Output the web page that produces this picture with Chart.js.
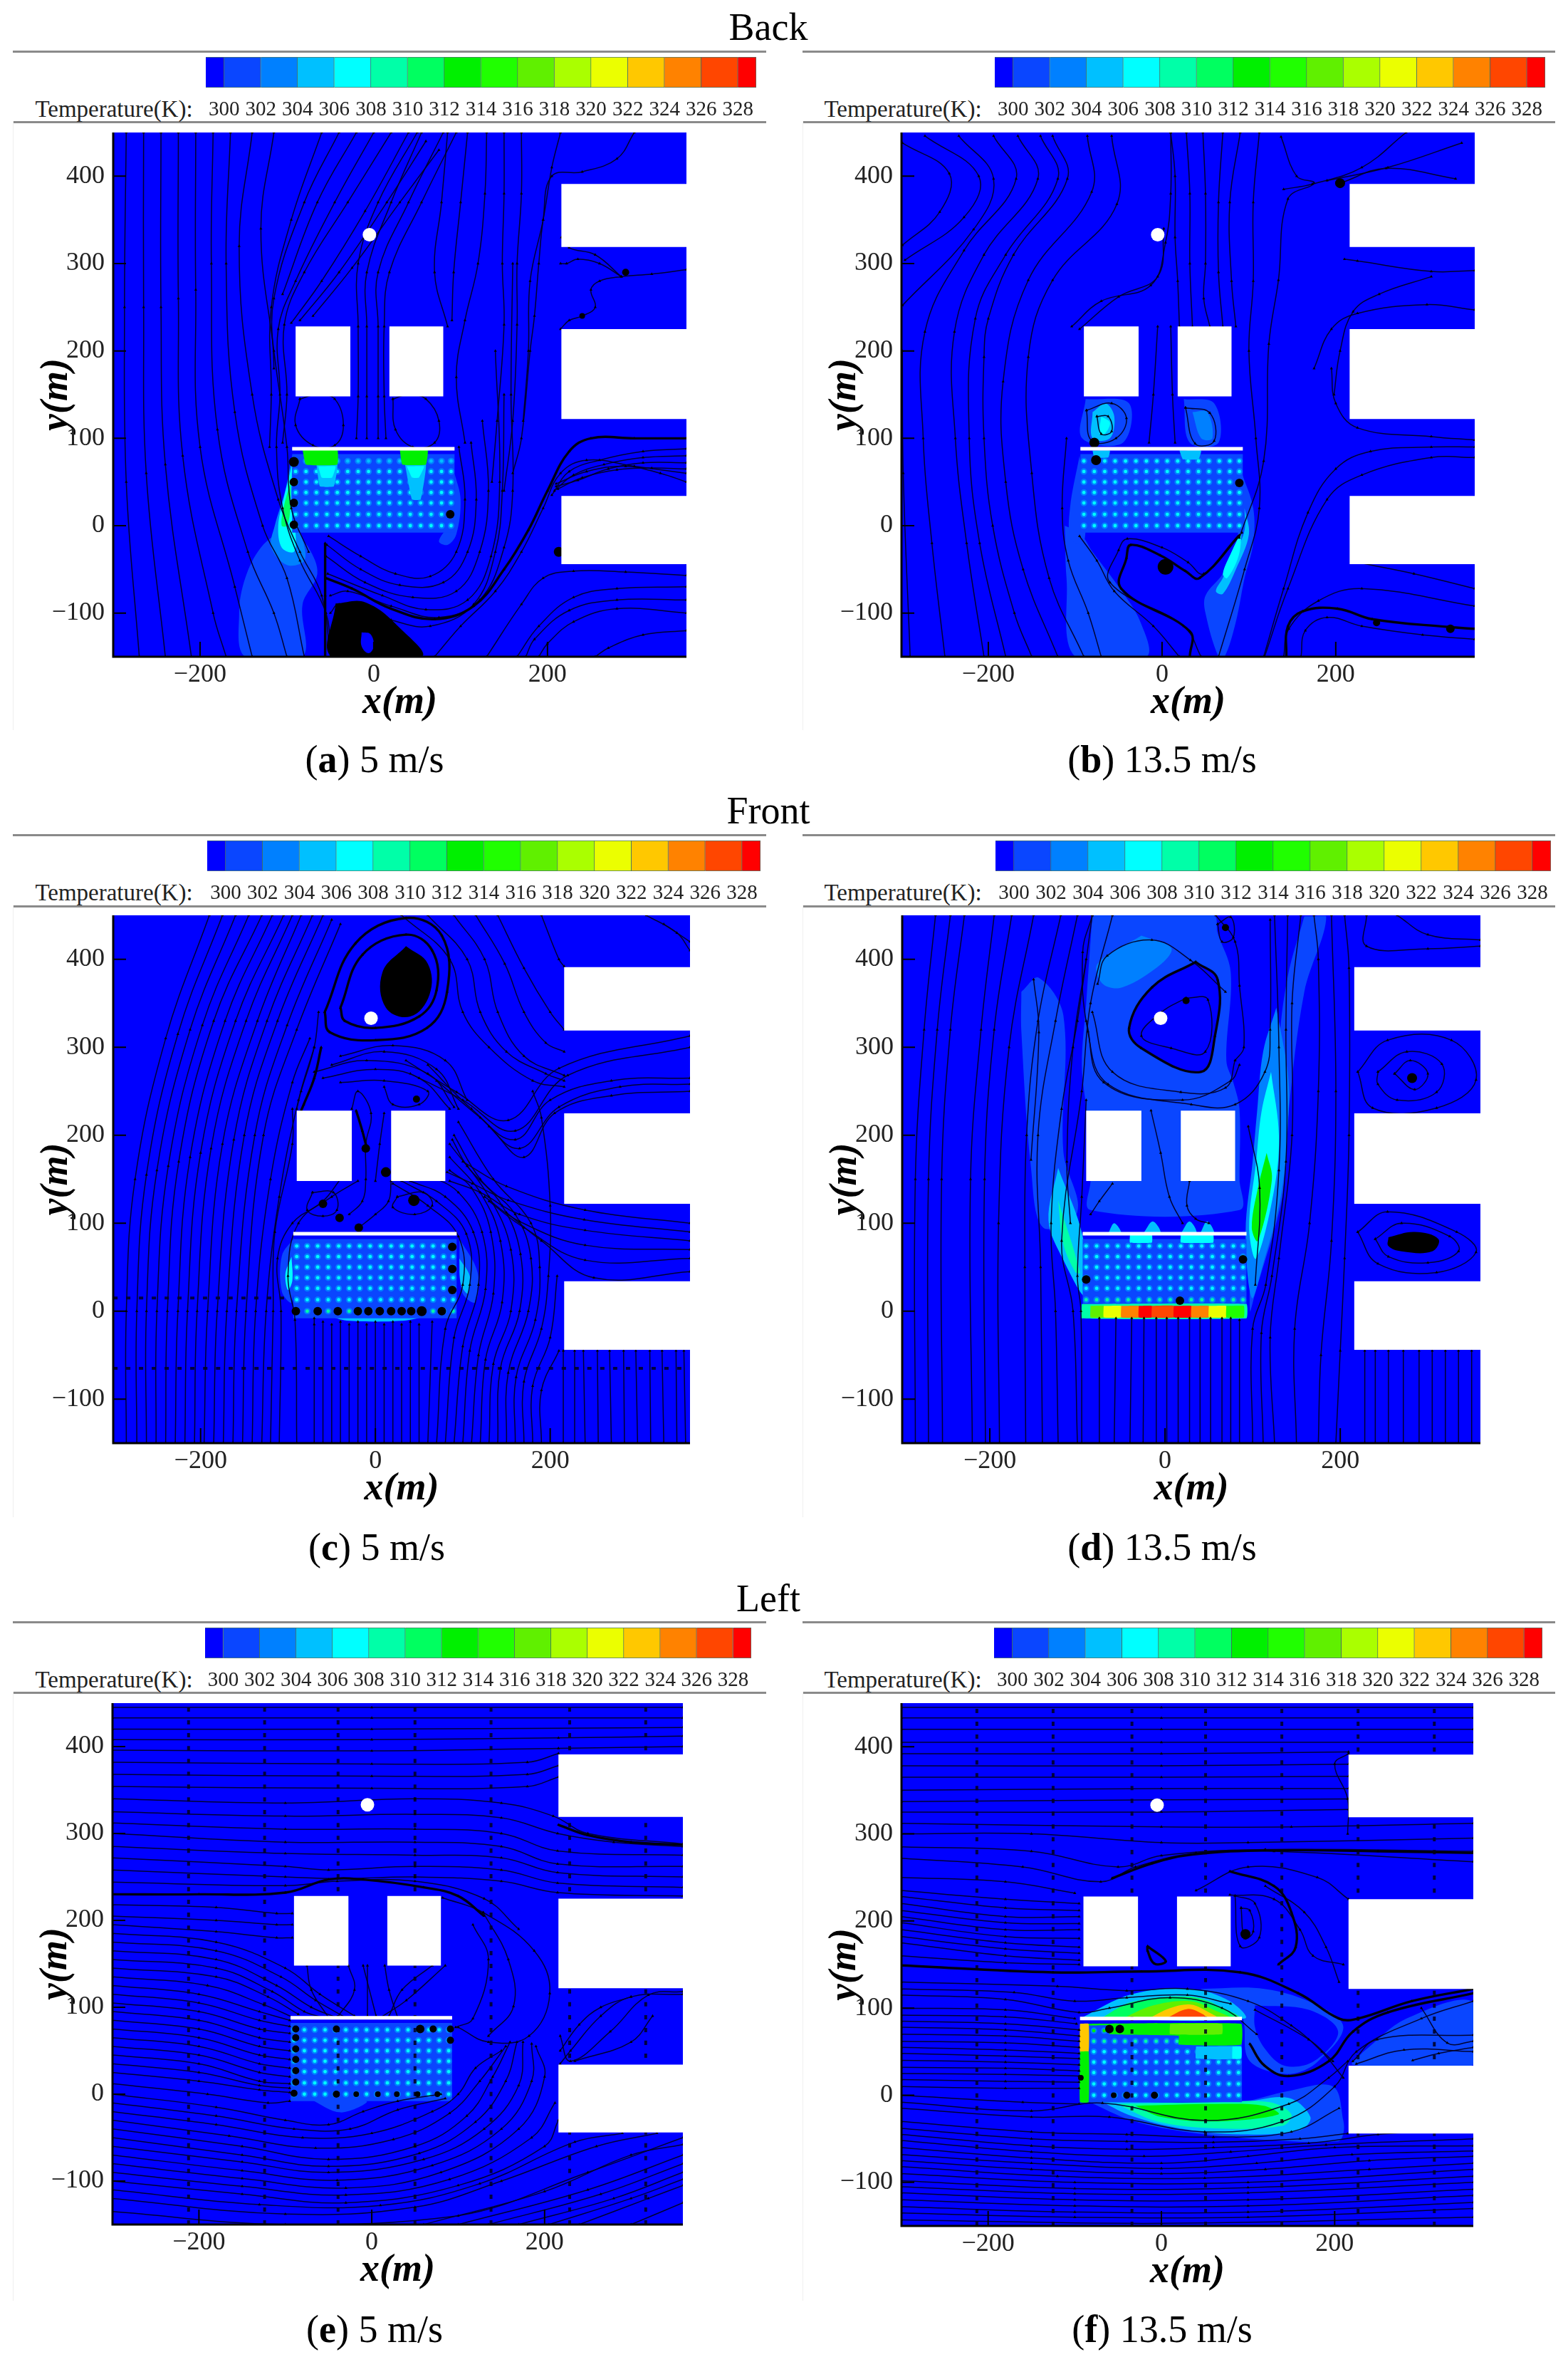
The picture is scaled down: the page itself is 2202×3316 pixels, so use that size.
<!DOCTYPE html>
<html>
<head>
<meta charset="utf-8">
<title>Temperature contours and streamlines</title>
<script src="https://cdn.jsdelivr.net/npm/chart.js@4/dist/chart.umd.js"></script>
<style>
html, body { margin: 0; padding: 0; background: #fff; }
#page { position: relative; width: 2202px; height: 3316px; overflow: hidden; font-family: "Liberation Serif", serif; color: #000; }
#page canvas { position: absolute; filter: blur(0.7px); }
.txt { position: absolute; white-space: nowrap; transform: translate(-50%, -50%); }
.head { font-size: 54px; }
.tlabel { font-size: 33px; color: #222; }
.rule { position: absolute; height: 3px; background: #8a8a8a; }
.edge { position: absolute; width: 1px; background: #efefef; }
</style>
</head>
<body>
<div id="page"></div>
<script>
// colour bar
const TEMP_EDGES = [299, 300, 302, 304, 306, 308, 310, 312, 314, 316, 318, 320, 322, 324, 326, 328, 329];
const TEMP_TICKS = [300, 302, 304, 306, 308, 310, 312, 314, 316, 318, 320, 322, 324, 326, 328];
const PALETTE = ['#0000ff', '#0a46ff', '#0080ff', '#00c0ff', '#00ffff', '#00ffa8', '#00ff60', '#00f000',
    '#20ff00', '#60f000', '#aaff00', '#ebff00', '#ffc800', '#ff8200', '#ff4600', '#ff0000'];

// axes
const X_TICKS = [-200, 0, 200];
const Y_TICKS = [-100, 0, 100, 200, 300, 400];

// buildings and array, metres: x0, x1, y0, y1
const BUILDINGS = [[-90, -27, 148, 228], [18, 80, 148, 228], [216, 370, 319, 391], [216, 370, 122, 225], [216, 370, -44, 34]];
const ARRAY_BOX = [-94, 93, -8, 82];
const WALL = [-94, 88, 93, 88];
const MAST = [-5, 333];
const DOT_X = [-90, -78, -66, -54, -42, -30, -18, -6, 6, 18, 30, 42, 54, 66, 78, 89];
const DOT_Y = [74, 62, 50, 38, 26, 13, 0];

// temperature level of the dots, row by row from the top
const dotLevelsA = [3, 4, 4, 4, 4, 4, 4];
const dotLevelsB = [4, 4, 4, 4, 4, 4, 4];
const dotLevelsC = [4, 4, 4, 4, 4, 4, 5];
const dotLevelsD = [4, 4, 4, 4, 4, 5, 7];
const dotLevelsE = [4, 4, 4, 4, 4, 4, 4];
const dotLevelsF = [7, 5, 4, 4, 4, 4, 4];

// contour patches: level, then x,y pairs
const hotA = [
    [1, -100, 0, -130, -25, -148, -60, -155, -100, -148, -150, -82, -150, -82, -90, -65, -55, -75, -25, -90, -10],
    [2, -94, 80, -102, 40, -114, 0, -118, -25, -100, -45, -80, -40, -82, -15, -92, 10, -90, 50],
    [4, -94, 70, -104, 30, -110, 0, -106, -25, -92, -30, -90, -10, -95, 20],
    [6, -96, 50, -104, 20, -106, 0, -100, 0, -96, 20],
    [1, 93, 60, 100, 30, 95, -10, 85, -22, 75, -18, 85, 0, 92, 30]
];
const arrayHotA = [
    [3, -66, 70, -42, 70, -46, 45, -62, 45],
    [3, 36, 70, 60, 70, 54, 30, 44, 30],
    [4, -64, 68, -44, 68, -48, 55, -60, 55],
    [4, 38, 68, 58, 68, 52, 55, 44, 55],
    [7, -82, 87, -42, 87, -42, 70, -78, 70],
    [7, 30, 87, 62, 87, 60, 70, 33, 70]
];
const hotB = [
    [1, -112, 0, -110, -60, -100, -150, -18, -150, -25, -110, -50, -70, -80, -30, -95, -8],
    [1, -95, 80, -106, 20, -105, -15, -90, -20, -90, 40],
    [1, 92, 60, 105, 20, 105, -20, 95, -60, 85, -110, 72, -150, 65, -150, 50, -100, 50, -80, 70, -55, 85, -25],
    [3, 95, 20, 95, -5, 85, -30, 70, -60, 62, -75, 70, -78, 85, -50, 100, -10],
    [4, 92, -5, 80, -30, 70, -55, 75, -60, 88, -35],
    [1, -88, 145, -92, 100, -45, 95, -38, 140],
    [3, -80, 130, -80, 100, -60, 100, -55, 125, -65, 140],
    [4, -70, 125, -72, 105, -66, 105, -60, 118],
    [1, 25, 145, 32, 95, 65, 95, 60, 140],
    [2, 35, 130, 45, 100, 58, 100, 52, 130]
];
const arrayHotB = [
    [3, -80, 86, -60, 86, -62, 78, -78, 78],
    [3, 20, 86, 45, 86, 42, 76, 24, 76]
];
const hotC = [
    [1, -93, 83, -107, 63, -107, 22, -96, 10, -93, 44],
    [4, -96, 62, -103, 42, -100, 24, -95, 35],
    [1, 96, 83, 117, 44, 114, 10, 99, 22],
    [3, 96, 60, 108, 40, 106, 20, 98, 30],
    [3, -52, -6, -30, -11, 30, -11, 53, -6]
];
const arrayHotC = [];
const hotD = [
    [1, -83, 450, -90, 350, -95, 280, -90, 230, -85, 150, -85, 115, 85, 115, 85, 150, 85, 230, 78, 260, 70, 285, 75, 385, 60, 430, 55, 450],
    [0, 35, 397, 60, 377, 57, 313, 41, 272, -27, 299, -41, 322, -15, 368],
    [2, -27, 427, 7, 413, -4, 395, -49, 368, -71, 372, -77, 395],
    [1, -164, 363, -144, 379, -116, 336, -116, 181, -100, 113, -139, 95, -153, 163, -164, 318],
    [3, -122, 163, -94, 85, -91, 17, -116, 58, -133, 103],
    [5, -122, 126, -97, 44, -102, 44, -116, 76],
    [1, 159, 449, 184, 449, 159, 363, 141, 226, 135, 135, 102, 17, 97, 0, 100, 60, 125, 130, 130, 300, 140, 380],
    [2, 127, 345, 140, 272, 141, 226, 133, 135, 111, 50, 99, 15, 92, 90, 100, 170, 105, 226, 112, 295],
    [4, 121, 272, 130, 199, 124, 135, 104, 60, 96, 95, 104, 170, 110, 226],
    [7, 116, 180, 122, 150, 106, 80, 99, 95, 106, 140],
    [3, -65, 88, -58, 100, -50, 88],
    [3, -25, 88, -14, 102, -5, 88],
    [3, 18, 88, 28, 102, 36, 88],
    [3, 40, 88, 48, 102, 56, 88]
];
const arrayHotD = [
    [5, -95, 8, 93, 8, 93, -8, -95, -8],
    [9, -85, 6, -70, 6, -70, -7, -85, -7],
    [11, -70, 6, -50, 6, -50, -7, -70, -7],
    [13, -50, 6, -30, 6, -30, -7, -50, -7],
    [15, -30, 6, -15, 6, -15, -7, -30, -7],
    [14, -15, 6, 10, 6, 10, -7, -15, -7],
    [15, 10, 6, 30, 6, 30, -7, 10, -7],
    [13, 30, 6, 50, 6, 50, -7, 30, -7],
    [11, 50, 6, 70, 6, 70, -7, 50, -7],
    [8, 70, 6, 90, 6, 90, -7, 70, -7],
    [4, -40, 87, -15, 87, -15, 78, -40, 78],
    [4, 18, 87, 55, 87, 55, 78, 18, 78]
];
const hotE = [
    [1, -71, -6, -6, -8, -36, -21]
];
const arrayHotE = [];
const hotF = [
    [1, 45, 122, 119, 122, 181, 103, 210, 78, 181, 39, 153, 25, 119, 29, 99, 44, 94, 88, 79, 103],
    [0, 108, 103, 170, 98, 204, 73, 176, 39, 142, 34, 119, 54, 108, 78],
    [1, 232, 49, 283, 88, 360, 107, 360, 35, 221, 35],
    [1, -85, -7, 91, -7, 147, 5, 198, 10, 210, -29, 210, -44, 204, -53, 119, -51, 34, -43, -34, -29],
    [3, -68, -8, 91, -8, 147, -3, 172, -25, 160, -40, 91, -45, 21, -38, -34, -24],
    [5, -51, -10, 62, -8, 125, -8, 150, -22, 140, -35, 62, -38, -5, -30],
    [7, -30, -12, 62, -10, 118, -12, 135, -22, 62, -30, 0, -25],
    [3, -94, 88, -34, 116, 34, 122, 79, 108, 96, 88],
    [6, -70, 88, -34, 107, 34, 113, 72, 100, 90, 88],
    [9, -45, 88, -10, 103, 34, 108, 65, 96, 80, 88],
    [12, -15, 88, 10, 100, 34, 104, 55, 95, 65, 88],
    [14, 5, 88, 30, 99, 48, 93, 52, 88]
];
const arrayHotF = [
    [7, -84, 82, 92, 82, 92, 58, 20, 58, 20, 68, -60, 70, -60, 80, -84, 80],
    [9, 10, 82, 70, 82, 70, 70, 10, 70],
    [12, -94, 82, -84, 82, -84, 50, -94, 50],
    [7, -94, 50, -84, 50, -84, -8, -94, -8],
    [3, 40, 56, 92, 56, 92, 42, 40, 42],
    [4, 82, 56, 92, 56, 92, 42, 82, 42]
];

// streamlines: x,y pairs
const linesA = [
    [-285, 450, -287, 250, -285, 50, -270, -150], [-265, 450, -265, 250, -262, 60, -240, -150],
    [-245, 450, -245, 250, -240, 70, -210, -150], [-225, 450, -225, 260, -220, 80, -185, -100, -170, -150],
    [-205, 450, -205, 270, -200, 90, -160, -70, -140, -150], [-185, 450, -187, 300, -180, 110, -145, -30, -115, -100, -100, -150],
    [-165, 450, -170, 300, -160, 130, -128, 0, -100, -60, -80, -150],
    [-140, 450, -155, 320, -140, 150, -110, 30, -85, -30, -60, -80, -50, -150],
    [-115, 450, -130, 340, -115, 200, -100, 90, -95, 20, -75, -30],
    [0, 450, -45, 370, -90, 280, -110, 225, -108, 150, -112, 90, -105, 20, -85, -40, -55, -100, -50, -150],
    [20, 450, -30, 370, -80, 290, -103, 230, -100, 150, -105, 95], [40, 450, -10, 360, -60, 280, -95, 232],
    [60, 440, 15, 370, -40, 290, -85, 235], [-60, 450, -95, 350, -118, 250, -118, 150, -120, 90],
    [-40, 450, -80, 370, -115, 260, -115, 180], [-20, 450, -65, 370, -105, 265], [75, 430, 30, 370, -25, 295, -70, 240],
    [55, 450, 20, 370, -8, 290, -8, 228, -8, 148, -8, 100], [80, 450, 40, 370, 5, 290, 5, 228, 5, 148, 5, 100],
    [50, 450, 5, 370, -18, 300, -18, 228, -18, 148, -20, 100], [95, 450, 55, 370, 18, 290, 12, 228, 12, 148, 14, 100],
    [85, 450, 78, 370, 70, 290, 85, 228], [108, 450, 100, 370, 92, 290, 90, 235], [130, 450, 128, 380, 120, 300, 105, 235, 95, 170, 105, 95],
    [98, 90, 105, 30, 95, -30, 65, -58, 25, -55, -15, -35, -52, -12], [112, 95, 118, 30, 108, -30, 80, -65, 30, -68, -15, -50, -54, -22],
    [125, 120, 132, 40, 122, -30, 95, -75, 45, -82, -10, -65, -55, -35], [140, 200, 145, 50, 135, -35, 108, -85, 60, -96, 10, -80, -53, -55],
    [160, 300, 158, 150, 160, 40, 150, -25, 122, -85, 75, -105, 20, -92, -30, -75, -50, -80],
    [150, 150, 148, 40, 140, -30, 115, -90, 65, -115, 20, -108, -40, -90, -50, -100],
    [360, 60, 300, 68, 245, 75, 215, 60, 195, 20, 170, -30, 140, -75, 100, -115, 70, -150],
    [360, 88, 310, 85, 260, 75, 225, 62, 205, 35], [360, 72, 310, 72, 270, 65, 235, 52, 210, 45], [360, 50, 330, 60, 290, 68, 245, 62, 210, 48],
    [360, 80, 310, 78, 265, 70, 230, 58, 208, 40], [360, 65, 320, 66, 280, 64, 240, 55, 212, 42],
    [360, -57, 290, -53, 230, -52, 195, -60, 170, -90, 130, -150], [360, -70, 280, -72, 230, -82, 190, -115, 165, -150],
    [360, -85, 280, -85, 225, -97, 185, -130, 175, -150],
    [360, -100, 280, -95, 230, -110, 200, -135, 190, -150], [360, -120, 310, -125, 270, -140, 255, -150],
    [300, 450, 280, 420, 240, 405, 205, 400, 195, 350, 190, 300, 185, 240, 180, 200, 170, 100, 160, 60],
    [215, 450, 205, 410, 195, 350, 180, 280, 178, 200, 172, 120], [170, 450, 170, 380, 165, 300, 165, 230, 160, 120, 150, 40],
    [150, 450, 150, 380, 148, 300, 150, 230, 142, 120, 136, 50],
    [360, 293, 320, 288, 285, 285, 260, 280, 250, 270, 255, 250, 240, 240, 225, 235, 215, 225],
    [285, 285, 260, 300, 235, 305, 222, 300, 215, 300], [285, 285, 255, 310, 225, 318, 216, 330],
    [-85, 145, -90, 115, -70, 92, -45, 92, -35, 115, -45, 145, -65, 150, -85, 145], [22, 145, 25, 110, 45, 90, 70, 95, 75, 120, 60, 145, 40, 150, 22, 145]
];
const thickA = [
    [360, 100, 300, 100, 250, 100, 225, 85, 200, 40, 178, -5, 150, -50, 115, -92, 70, -107, 20, -95, -25, -72, -55, -60],
    [-56, -20, -56, -80, -56, -150]
];
const linesB = [
    [-299, 438, -245, 403, -256, 359, -299, 321], [-273, 446, -211, 400, -228, 353, -296, 304], [-234, 446, -194, 397, -217, 339, -299, 252],
    [-126, 446, -109, 397, -171, 310, -200, 237, -205, 193, -205, 100, -195, 0, -170, -100, -150, -150],
    [-86, 446, -81, 382, -154, 281, -183, 165, -180, 50, -160, -50, -120, -150],
    [-58, 446, -52, 368, -126, 281, -154, 193, -150, 60, -130, -60, -90, -150],
    [-166, 446, -143, 397, -205, 310, -239, 222, -238, 100, -225, -20, -205, -150],
    [-194, 446, -168, 397, -228, 315, -273, 222, -275, 100, -265, -20, -250, -150],
    [-140, 446, -120, 397, -180, 310, -215, 237, -222, 100, -210, -20, -180, -150],
    [-299, 200, -298, 60, -290, -150], [-104, 228, -70, 257, -13, 275, 4, 324, 10, 380, 10, 450],
    [-110, 100, -115, 20, -108, -40, -85, -100, -70, -150],
    [10, 450, 15, 400, 15, 330, 18, 280, 20, 228], [47, 450, 50, 380, 50, 300, 48, 260, 55, 228], [90, 450, 78, 370, 80, 280, 85, 228],
    [70, 450, 65, 370, 65, 290, 70, 228], [112, 450, 105, 370, 105, 280, 100, 200, 108, 100, 112, 20, 95, -50, 65, -150],
    [28, 450, 32, 380, 32, 300, 35, 228], [-95, 225, -50, 262, -5, 285, 2, 340],
    [137, 445, 155, 400, 175, 392, 145, 374, 134, 281, 123, 208, 117, 74, 89, -14],
    [281, 450, 230, 410, 173, 391, 140, 385], [345, 438, 260, 410, 190, 395], [338, 397, 258, 409, 205, 392],
    [360, 292, 310, 291, 225, 303, 210, 305], [310, 285, 250, 265, 220, 245, 205, 200, 198, 150],
    [360, 247, 305, 253, 225, 243, 195, 225, 175, 180], [360, 98, 310, 102, 225, 112, 200, 140, 195, 180],
    [360, 90, 310, 90, 240, 85, 200, 65, 168, 15, 140, -72, 117, -150], [360, 78, 310, 78, 230, 58, 190, 30, 145, -72, 118, -150],
    [360, -72, 290, -55, 230, -43], [360, -92, 230, -72, 180, -86, 146, -118, 140, -150],
    [360, -130, 300, -125, 230, -115, 190, -105, 165, -120, 160, -150], [92, -8, 48, -55, 30, -42, 0, -25, -40, -15, -50, -28, -60, -65, 25, -115, 45, -150],
    [-95, -12, -75, -40, -55, -75, -10, -115, 20, -150], [-5, 228, -10, 150, -15, 95], [10, 228, 12, 150, 15, 95],
    [-87, 132, -81, 97, -53, 100, -41, 123, -58, 140, -87, 132], [27, 135, 38, 94, 60, 97, 55, 129, 27, 135],
    [-75, 125, -70, 105, -58, 108, -62, 125, -75, 125]
];
const thickB = [
    [89, -11, 43, -60, 27, -52, -2, -34, -36, -22, -41, -37, -47, -72, 32, -121, 32, -150],
    [360, -118, 330, -116, 242, -107, 202, -95, 162, -98, 145, -115, 143, -150]
];
const linesC = [
    [-285, -150, -285, 0, -275, 150, -240, 310, -190, 450], [-262, -150, -262, 0, -250, 160, -212, 320, -160, 450],
    [-273, -150, -273, 0, -262, 155, -226, 315, -175, 450], [-251, -150, -250, 0, -237, 165, -198, 325, -145, 450],
    [-240, -150, -238, 0, -225, 170, -185, 330, -130, 450], [-218, -150, -215, 0, -200, 180, -160, 330, -105, 450],
    [-229, -150, -226, 0, -212, 175, -172, 330, -118, 450], [-207, -150, -204, 0, -188, 185, -148, 330, -95, 450],
    [-196, -150, -192, 0, -175, 190, -135, 330, -85, 450], [-174, -150, -170, 0, -150, 200, -112, 330, -60, 450],
    [-185, -150, -181, 0, -162, 195, -124, 330, -72, 450], [-163, -150, -159, 0, -138, 200, -101, 325, -50, 445],
    [-152, -150, -148, 0, -128, 200, -90, 320, -40, 440], [-130, -150, -125, 0, -110, 130, -88, 240, -70, 300],
    [-141, -150, -137, 0, -120, 150, -95, 260, -75, 310], [-120, -150, -117, 0, -115, 90, -95, 190, -95, 230],
    [-110, -150, -108, 0, -112, 60, -95, 100, -60, 125, -40, 150], [-90, -150, -92, -10, -100, 40, -88, 100, -50, 130, -20, 148],
    [-70, -150, -70, -15, -70, -8], [-50, -150, -50, -15], [-30, -150, -30, -15], [-10, -150, -10, -15], [10, -150, 10, -15], [30, -150, 30, -15], [50, -150, 50, -15],
    [-60, -150, -60, -12], [-40, -150, -40, -12], [-20, -150, -20, -12], [0, -150, 0, -12], [20, -150, 20, -12], [40, -150, 40, -12], [60, -150, 65, -12],
    [70, -150, 80, -20, 100, 30, 95, 85, 60, 120, 20, 145], [90, -150, 100, -40, 118, 30, 112, 90, 80, 130, 40, 148],
    [80, -150, 90, -30, 108, 30, 104, 88, 70, 125, 30, 148], [100, -150, 108, -45, 126, 25, 122, 90, 95, 135, 60, 155],
    [110, -150, 118, -50, 135, 20, 132, 90, 110, 140, 85, 160], [120, -150, 126, -55, 145, 10, 143, 80, 120, 135, 85, 175],
    [130, -150, 135, -60, 155, 0, 155, 70, 130, 130, 85, 190], [150, -150, 152, -70, 175, 0, 178, 60, 160, 110, 120, 150, 90, 200],
    [140, -150, 143, -65, 165, 0, 166, 65, 145, 120, 105, 165, 88, 195], [160, -150, 161, -75, 183, -10, 188, 50, 178, 100, 135, 150, 95, 215],
    [170, -150, 170, -80, 190, -20, 198, 40, 200, 120, 190, 220, 180, 250], [190, -150, 190, -90, 210, -45], [180, -150, 180, -85, 200, -30, 208, 40],
    [215, -150, 215, -45], [228, -150, 228, -45], [240, -150, 238, -45], [255, -150, 254, -45], [270, -150, 268, -45], [285, -150, 284, -45], [300, -150, 298, -45], [315, -150, 314, -45], [330, -150, 328, -45], [345, -150, 344, -45], [355, -150, 353, -45],
    [360, 313, 210, 276, 152, 217, 93, 249, 35, 285], [360, 300, 220, 268, 160, 205, 100, 240, 40, 270], [360, 265, 270, 262, 200, 240, 160, 195, 110, 230, 60, 280],
    [360, 258, 280, 255, 210, 232, 165, 185, 120, 220, 70, 262], [360, 250, 270, 245, 205, 225, 170, 175, 130, 210],
    [360, 90, 239, 104, 152, 126, 111, 145, 82, 158], [360, 80, 240, 92, 165, 110, 120, 135, 85, 148], [360, 60, 240, 58, 170, 95, 130, 125],
    [360, 45, 250, 38, 190, 80, 150, 112], [360, 100, 240, 115, 150, 142, 100, 170], [360, 70, 240, 75, 165, 102, 125, 130],
    [30, 450, 85, 400, 100, 340, 130, 300, 180, 262, 216, 255], [90, 450, 125, 400, 140, 340, 170, 290, 216, 268], [140, 450, 170, 390, 200, 340, 216, 320],
    [60, 450, 105, 400, 120, 340, 150, 295, 195, 270, 216, 262], [115, 450, 148, 395, 170, 340, 195, 305, 216, 295],
    [190, 450, 210, 400, 216, 392], [330, 440, 360, 420], [310, 450, 345, 430, 360, 410],
    [-90, 230, -85, 250, -70, 300, -65, 340], [-27, 230, -20, 250, -5, 225, -11, 190, -11, 150, -15, 125, -30, 110],
    [0, 148, 5, 190, 10, 225], [18, 148, 15, 125, 0, 110, -19, 95], [-60, 265, 0, 275, 50, 265, 85, 230], [-50, 280, 10, 295, 70, 275, 95, 230],
    [-70, 272, -10, 285, 60, 270, 90, 232], [-40, 290, 20, 302, 80, 285, 105, 240],
    [-40, 260, 10, 262, 60, 250, 50, 235, 20, 235, 10, 255], [-72, 135, -48, 135, -44, 115, -60, 108, -78, 115, -72, 135],
    [25, 130, 55, 135, 65, 120, 45, 110, 20, 118, 25, 130]
];
const thickC = [
    [-58, 340, -23, 418, 35, 447, 76, 427, 82, 363, 59, 322, 0, 308, -52, 317, -58, 340],
    [-40, 345, -15, 405, 35, 428, 65, 410, 70, 365, 50, 335, 0, 322, -35, 330, -40, 345],
    [-62, 300, -70, 265, -82, 235, -85, 228],
    [-22, 228, -15, 205, -11, 190]
];
const linesD = [
    [-285, -150, -285, 150, -275, 320, -262, 450], [-254, -150, -255, 150, -245, 320, -229, 450], [-220, -150, -222, 150, -210, 320, -195, 450],
    [-189, -150, -190, 100, -178, 300, -150, 450], [-159, -150, -160, 50, -158, 200, -145, 330, -119, 450],
    [-122, -150, -125, 0, -130, 100, -118, 230, -100, 330, -83, 450], [-100, -150, -105, 0, -118, 80, -95, 250, -85, 350, -60, 450],
    [-270, -150, -270, 150, -260, 320, -245, 450], [-205, -150, -206, 150, -195, 320, -175, 450], [-140, -150, -142, 50, -145, 200, -125, 330, -100, 450],
    [-95, -150, -96, 0, -100, 40, -95, 130, -90, 240], [-40, -150, -38, -8], [-10, -150, -10, -8], [15, -150, 15, -8], [40, -150, 40, -8], [65, -150, 65, -8],
    [-75, -150, -75, -8], [85, -150, 85, -10], [-58, -150, -56, -8], [-25, -150, -24, -8], [2, -150, 2, -8], [28, -150, 28, -8], [52, -150, 52, -8], [75, -150, 75, -8],
    [100, -150, 100, -20, 115, 30, 130, 160, 130, 300, 125, 450], [125, -150, 120, -30, 130, 60, 145, 200, 145, 350, 155, 450],
    [112, -150, 110, -25, 122, 40, 138, 170, 138, 320, 140, 450],
    [150, -150, 148, -20, 165, 100, 175, 250, 175, 400, 170, 450], [175, -150, 178, -50, 190, 80, 195, 250, 190, 450], [195, -150, 200, -45, 205, 60, 210, 200, 210, 390, 205, 450],
    [228, -150, 228, -45], [240, -150, 240, -45], [255, -150, 255, -45], [272, -150, 272, -45], [290, -150, 290, -45], [305, -150, 305, -45], [320, -150, 320, -45], [335, -150, 335, -45], [350, -150, 350, -45],
    [220, 272, 254, 308, 327, 308, 355, 263, 310, 231, 237, 231, 220, 272], [243, 272, 276, 295, 316, 281, 310, 249, 265, 240, 243, 258, 243, 272],
    [262, 270, 280, 285, 300, 270, 285, 252, 262, 270], [220, 90, 254, 113, 333, 90, 355, 67, 310, 44, 243, 54, 220, 90],
    [240, 82, 270, 100, 325, 85, 335, 68, 300, 55, 255, 62, 240, 82], [230, 450, 230, 415, 300, 412, 360, 415], [265, 450, 300, 428, 360, 422],
    [24, 356, -4, 340, -27, 313, 7, 299, 46, 295, 49, 354, 24, 356], [120, 445, 120, 320, 114, 272, 80, 235, 30, 235, -65, 258, -88, 318, -94, 408, -83, 450],
    [80, 285, 69, 254, 18, 249, -60, 272, -83, 340], [85, 280, 75, 262, 20, 240, -70, 260, -90, 330], [-77, 372, -66, 404, -15, 422, 29, 399, 69, 363],
    [-153, 172, -144, 317, -150, 377], [-16, 228, -5, 180, 5, 130, 20, 100], [28, 148, 25, 120, 35, 105, 50, 100], [-60, 145, -75, 125, -85, 110],
    [-108, 100, -112, 170, -105, 300, -90, 400], [103, 30, 108, 140, 95, 210], [58, 450, 80, 420, 85, 370, 90, 300, 80, 285],
    [60, 440, 65, 420, 78, 425, 75, 448, 60, 440]
];
const thickD = [
    [35, 397, 60, 377, 57, 313, 41, 272, -27, 299, -41, 322, -15, 368, 35, 397]
];
const linesE = [
    [-300, 445, 0, 445, 360, 445], [-300, 433, 0, 433, 360, 433], [-300, 420, 0, 420, 360, 422], [-300, 408, 0, 408, 216, 410, 360, 412],
    [-300, 396, 0, 395, 216, 398, 360, 400], [-300, 382, 0, 380, 180, 382, 216, 392], [-300, 368, 0, 366, 180, 368, 216, 378],
    [-300, 354, 0, 352, 180, 354, 216, 365], [-300, 340, -100, 335, 50, 340, 150, 335, 210, 320, 250, 300, 360, 288],
    [-300, 325, -100, 320, 50, 322, 150, 318, 215, 300, 280, 290, 360, 285], [-300, 312, -100, 305, 50, 305, 150, 300, 215, 280, 360, 275],
    [-300, 300, -100, 290, 50, 290, 150, 285, 215, 265, 360, 262], [-300, 285, -100, 277, 50, 275, 150, 272, 215, 255, 360, 250],
    [-300, 272, -100, 262, -50, 258, 50, 262, 150, 258, 215, 243, 360, 238], [-300, 258, -100, 250, -40, 248, 50, 250, 150, 245, 215, 232, 360, 228],
    [-300, 244, -100, 240, -40, 245, 50, 245, 130, 225, 170, 190],
    [-300, 218, -180, 215, -110, 208, -92, 208], [-300, 205, -180, 200, -110, 195, -92, 195], [-300, 195, -180, 187, -110, 180, -92, 180],
    [-300, 185, -180, 175, -100, 145, -60, 115, -20, 90], [-300, 175, -180, 165, -105, 135, -65, 108, -30, 88], [-300, 165, -180, 155, -110, 125, -70, 100, -40, 88],
    [-300, 155, -180, 145, -115, 118, -78, 95, -55, 88],
    [-300, 145, -180, 135, -120, 112, -85, 92], [-300, 135, -190, 125, -125, 103, -90, 88], [-300, 125, -200, 115, -130, 95, -95, 85], [-300, 115, -200, 105, -130, 85, -95, 78], [-300, 105, -200, 95, -130, 75, -95, 70],
    [-300, 95, -200, 85, -130, 65, -95, 60], [-300, 85, -200, 75, -130, 55, -95, 50], [-300, 75, -200, 65, -130, 45, -95, 40], [-300, 65, -200, 55, -130, 35, -95, 30], [-300, 55, -200, 45, -130, 25, -95, 20], [-300, 45, -200, 35, -130, 15, -95, 12], [-300, 35, -200, 25, -130, 10, -95, 7], [-300, 25, -200, 15, -130, 5, -95, 2],
    [-300, 12, -190, 0, -120, -10, -95, -8],
    [-300, 0, -180, -15, -100, -30, -50, -35, -10, -20, 30, -8, 80, 0], [-300, -10, -180, -25, -90, -40, -25, -40, 30, -18, 85, -5], [-300, -20, -180, -35, -80, -50, 0, -45, 70, -20, 100, 0, 120, 30, 150, 50],
    [-300, -30, -165, -48, -65, -62, 25, -52, 90, -22, 125, 15, 155, 55],
    [-300, -40, -150, -60, -50, -75, 50, -60, 110, -25, 140, 20, 160, 60], [-300, -50, -150, -70, -50, -83, 55, -68, 120, -32, 155, 15, 168, 60], [-300, -60, -150, -78, -50, -90, 60, -75, 130, -40, 170, 10, 175, 60],
    [-300, -70, -150, -88, -40, -99, 70, -82, 150, -40, 185, 15, 185, 58],
    [-300, -80, -150, -97, -30, -108, 80, -90, 170, -40, 200, 20, 190, 55], [-300, -90, -150, -106, -30, -116, 90, -98, 185, -50, 212, -10],
    [-300, -100, -150, -115, -30, -125, 100, -105, 200, -60, 216, -30], [-300, -110, -130, -127, 10, -128, 125, -103, 235, -55, 290, -45],
    [-300, -120, -100, -138, 50, -130, 150, -100, 260, -60, 330, -45], [-300, -135, -100, -150, 100, -140, 250, -90, 360, -50],
    [60, -150, 200, -112, 300, -70, 360, -58], [100, -150, 250, -110, 360, -70], [135, -150, 265, -115, 360, -80], [170, -150, 280, -120, 360, -90], [205, -150, 300, -120, 360, -98], [240, -150, 320, -120, 360, -105], [300, -150, 360, -125],
    [82, 226, 129, 209, 188, 165, 206, 116, 182, 67, 135, 60, 100, 77], [129, 209, 158, 155, 164, 101, 135, 67], [117, 195, 135, 155, 117, 87, 97, 77],
    [85, 148, 40, 108, 10, 88], [70, 148, 35, 120, 20, 90], [-50, 88, -70, 120, -75, 148], [-40, 88, -20, 120, -27, 148], [-5, 90, -5, 148], [5, 90, -10, 148], [30, 88, 20, 120, 15, 148],
    [218, 67, 230, 38, 276, 72, 320, 114, 360, 118], [218, 50, 240, 80, 265, 100, 300, 112], [235, 38, 300, 60, 325, 90], [360, 115, 300, 112, 265, 90, 230, 50, 218, 35]
];
const thickE = [
    [-300, 230, -200, 230, -100, 232, -50, 247, -10, 247, 60, 238, 100, 228, 130, 205],
    [216, 310, 250, 298, 300, 290, 360, 287]
];
const linesF = [
    [-300, 445, 0, 445, 360, 445], [-300, 433, 0, 433, 360, 433], [-300, 420, 0, 420, 360, 420], [-300, 405, 0, 405, 360, 405], [-300, 392, 0, 392, 216, 394],
    [-300, 378, 0, 378, 216, 380], [-300, 365, 0, 365, 216, 366], [-300, 350, 0, 352, 216, 352], [-300, 337, 0, 339, 216, 340], [-300, 325, 0, 325, 216, 328],
    [-300, 312, 0, 308, 150, 308, 360, 312], [-300, 300, -150, 300, 0, 290, 100, 290, 360, 295], [-300, 285, -150, 280, -50, 262, 0, 275, 120, 282, 360, 280],
    [-300, 272, -160, 262, -70, 245, -30, 262, 40, 278, 130, 280, 360, 268],
    [-300, 250, -180, 245, -100, 232], [-300, 235, -180, 225, -95, 220], [-300, 228, -180, 215, -95, 212], [-300, 220, -180, 205, -95, 205], [-300, 212, -180, 198, -95, 197], [-300, 205, -180, 190, -95, 190],
    [-300, 198, -180, 182, -95, 180], [-300, 190, -180, 175, -95, 170], [-300, 182, -180, 168, -95, 163], [-300, 175, -180, 160, -95, 155], [-300, 160, -180, 152, -95, 150],
    [-300, 130, -120, 125, -40, 120, 30, 122, 100, 108, 150, 80, 185, 50, 210, 20], [-300, 115, -180, 110, -95, 95, -60, 100, 10, 112, 70, 100, 110, 70],
    [-300, 122, -170, 118, -100, 108, -40, 112, 30, 115, 80, 105],
    [-300, 100, -180, 98, -100, 88], [-300, 92, -180, 90, -98, 82], [-300, 85, -180, 82, -95, 75], [-300, 78, -180, 75, -95, 68], [-300, 70, -180, 68, -95, 62], [-300, 62, -180, 60, -95, 55], [-300, 55, -180, 52, -95, 48], [-300, 48, -180, 45, -95, 42], [-300, 40, -180, 38, -95, 35],
    [-300, 32, -180, 31, -95, 28], [-300, 25, -180, 24, -95, 22], [-300, 18, -180, 16, -95, 15], [-300, 10, -180, 8, -95, 8], [-300, 0, -160, -8, -95, -10],
    [-300, -15, -150, -25, -60, -25, 50, -42, 140, -30, 200, 10, 225, 50, 300, 88, 360, 108], [-300, -8, -150, -18, -68, -9, 51, -29, 147, -10, 193, 20, 215, 39],
    [-300, -30, -150, -42, -40, -45, 60, -48, 150, -42, 205, -15], [-300, -38, -150, -50, -40, -53, 60, -54, 160, -50, 215, -44], [-300, -45, -150, -58, -40, -62, 60, -60, 170, -55, 250, -45, 300, -42],
    [-300, -52, -150, -65, -20, -70, 80, -65, 190, -57, 360, -50],
    [-300, -60, -150, -72, 0, -78, 100, -70, 200, -60, 360, -58], [-300, -68, -150, -78, 0, -84, 110, -78, 220, -68, 360, -64], [-300, -75, -150, -85, 0, -90, 120, -85, 240, -75, 360, -70], [-300, -82, -120, -93, 50, -95, 240, -85, 360, -78], [-300, -90, -100, -100, 100, -100, 360, -85],
    [-300, -98, -100, -107, 100, -106, 360, -93],
    [-300, -105, -100, -113, 100, -112, 360, -100], [-300, -112, -100, -120, 100, -120, 360, -108], [-300, -120, -100, -127, 100, -127, 360, -115], [-300, -128, -100, -134, 100, -134, 360, -123], [-300, -135, -100, -140, 100, -140, 360, -130], [-300, -143, 0, -147, 360, -140],
    [85, 229, 91, 171, 113, 181, 108, 220, 85, 229], [92, 215, 96, 180, 106, 188, 102, 212, 92, 215], [108, 98, 170, 64, 198, 39],
    [79, 230, 130, 225, 160, 190, 175, 160, 210, 150], [120, 240, 165, 210, 190, 170, 205, 130], [40, 235, 100, 262, 180, 250, 216, 225],
    [360, 69, 249, 64, 221, 39], [360, 50, 280, 52, 225, 36], [290, 40, 320, 48, 360, 55], [300, 100, 330, 60, 360, 62], [215, 300, 215, 340, 200, 380, 216, 392]
];
const thickF = [
    [-57, 249, -11, 266, 34, 276, 119, 281, 250, 280, 360, 278],
    [360, 117, 261, 95, 221, 73, 193, 39, 147, 22, 119, 34, 102, 59],
    [360, 122, 289, 108, 227, 88, 205, 88, 158, 117, 91, 141, -23, 142, -125, 141, -300, 149],
    [79, 257, 130, 240, 150, 210, 155, 170, 135, 150],
    [-16, 171, 5, 154, -8, 151, -16, 166, -16, 171]
];

// dark spots where the arrows pile up: x, y, radius in px
const spotsA = [[-92, 73, 7], [-92, 50, 6], [-92, 26, 6], [-92, 1, 6], [88, 13, 6], [213, -30, 7], [290, 290, 5], [240, 240, 4]];
const spotsB = [[-76, 75, 7], [-78, 95, 7], [89, 49, 6], [4, -47, 11], [332, -118, 6], [247, -111, 5], [205, 392, 7]];
const spotsC = [[-91, 0, 6], [-66, 0, 6], [-43, 0, 6], [-20, 0, 6], [-8, 0, 6], [5, 0, 6], [18, 0, 6], [30, 0, 6], [41, 0, 6], [53, 0, 7], [76, 0, 6],
    [88, 73, 6], [88, 48, 6], [88, 24, 6], [-60, 122, 6], [44, 126, 8], [-11, 185, 6], [12, 158, 7], [-41, 106, 6], [-19, 95, 6], [47, 241, 5]];
const spotsD = [[-90, 36, 6], [89, 59, 6], [17, 12, 6], [24, 353, 5], [282, 265, 7], [69, 436, 5]];
const spotsE = [[-88, 75, 5], [-88, 65, 5], [-88, 52, 5], [-88, 40, 5], [-88, 27, 5], [-88, 14, 5], [-90, 1, 5], [-41, 0, 5], [-18, 0, 4], [7, 0, 4], [29, 0, 4], [53, 0, 4], [76, 0, 4],
    [56, 75, 6], [71, 75, 5], [91, 75, 5], [91, 62, 5], [-41, 75, 5]];
const spotsF = [[97, 185, 7], [-60, 76, 6], [-48, 76, 6], [-93, 20, 4], [-40, 0, 5], [-8, 0, 5], [-55, 0, 4]];

// solid dark patches (vortex cores)
const coresA = [[-44, -89, -9, -88, 32, -119, 55, -150, -48, -150]];
const holesA = [[-14, -122, -4, -124, 0, -138, -6, -146, -14, -138]];
const coresB = [];
const coresC = [[35, 415, 60, 395, 62, 360, 40, 335, 12, 345, 8, 385]];
const coresD = [[255, 84, 285, 90, 312, 82, 305, 68, 270, 68, 255, 74]];
const coresE = [];
const coresF = [];

// seed rows of arrowheads, drawn dashed
const seedsA = [];
const seedsB = [];
const seedsC = [[-300, 15, -100, 15], [-300, -65, 360, -65]];
const seedsD = [];
const seedsE = [[-212, -150, -212, 450], [-124, -150, -124, 450], [-39, -150, -39, 450], [50, -150, 50, 450], [138, -150, 138, 450], [229, -150, 229, 450], [317, -150, 317, 450]];
const seedsF = [[-213, -150, -213, 450], [-125, -150, -125, 450], [-34, -150, -34, 450], [51, -150, 51, 450], [139, -150, 139, 450], [227, -150, 227, 450], [315, -150, 315, 450]];

// layout, pixels
const SERIF = '"Liberation Serif", serif';
const PANEL_LAYOUT = [
    { l: 159, r: 964, t: 186, b: 922 }, { l: 1266, r: 2071, t: 186, b: 922 },
    { l: 159, r: 969, t: 1285, b: 2026 }, { l: 1267, r: 2079, t: 1285, b: 2026 },
    { l: 158, r: 959, t: 2391, b: 3123 }, { l: 1266, r: 2069, t: 2391, b: 3125 }
];
const BAR_LAYOUT = [
    { l: 289, r: 1062, t: 80, b: 123 }, { l: 1397, r: 2170, t: 80, b: 123 },
    { l: 291, r: 1068, t: 1180, b: 1223 }, { l: 1398, r: 2178, t: 1180, b: 1223 },
    { l: 288, r: 1055, t: 2285, b: 2328 }, { l: 1396, r: 2166, t: 2285, b: 2328 }
];
const RULES = [[18, 1076, 71, 170, 1025], [1127, 2184, 71, 170, 1025], [18, 1076, 1171, 1271, 2130], [1127, 2184, 1171, 1271, 2130], [18, 1076, 2276, 2375, 3230], [1127, 2184, 2276, 2375, 3230]];
const HEADS = [['Back', 1079, 38], ['Front', 1079, 1138], ['Left', 1079, 2244]];
const CAPTIONS = [['a', ' 5 m/s', 526, 1066], ['b', ' 13.5 m/s', 1632, 1066], ['c', ' 5 m/s', 529, 2172], ['d', ' 13.5 m/s', 1632, 2172], ['e', ' 5 m/s', 526, 3270], ['f', ' 13.5 m/s', 1632, 3270]];

const page = document.getElementById('page');

function pts(flat) {
    const out = [];
    for (let i = 0; i < flat.length; i += 2) out.push({ x: flat[i], y: flat[i + 1] });
    return out;
}

function shape(flat, color, tension) {
    return { data: pts(flat.concat(flat.slice(0, 2))), showLine: true, fill: 'shape', backgroundColor: color, borderWidth: 0, pointRadius: 0, tension: tension };
}

function line(flat, color, width) {
    return {
        data: pts(flat), showLine: true, fill: false, borderColor: color, borderWidth: width, tension: 0.4,
        pointRadius: 2.4, pointStyle: 'triangle', pointBackgroundColor: '#000', pointBorderWidth: 0
    };
}

function box(b) {
    return [b[0], b[2], b[1], b[2], b[1], b[3], b[0], b[3]];
}

// white-filled buildings sit above the streamlines, so build bottom first and reverse at the end
function panelDatasets(hot, arrayHot, dotLevels, lines, thick, spots, cores, holes, seeds) {
    const sets = [];
    hot.forEach(h => sets.push(shape(h.slice(1), PALETTE[h[0]], 0.35)));
    sets.push(shape(box(ARRAY_BOX), PALETTE[1], 0));

    DOT_Y.forEach((y, row) => {
        const flat = [];
        DOT_X.forEach(x => flat.push(x, y));
        sets.push({ data: pts(flat), pointRadius: 4.6, pointBackgroundColor: PALETTE[2], pointBorderWidth: 0 });
        sets.push({ data: pts(flat), pointRadius: 2.4, pointBackgroundColor: PALETTE[dotLevels[row]], pointBorderWidth: 0 });
    });
    arrayHot.forEach(h => sets.push(shape(h.slice(1), PALETTE[h[0]], 0.1)));

    seeds.forEach(s => {
        const d = line(s, 'rgba(0,0,30,0.85)', 4);
        d.borderDash = [6, 12];
        d.pointRadius = 0;
        sets.push(d);
    });
    lines.forEach(l => sets.push(line(l, 'rgba(0,0,40,0.95)', 1.5)));
    thick.forEach(l => sets.push(line(l, '#000010', 3.4)));
    cores.forEach(c => sets.push(shape(c, '#000', 0.4)));
    holes.forEach(c => sets.push(shape(c, PALETTE[0], 0.4)));
    sets.push({
        data: spots.map(s => ({ x: s[0], y: s[1] })),
        pointRadius: spots.map(s => s[2]), pointBackgroundColor: '#000', pointBorderWidth: 0
    });

    BUILDINGS.forEach(b => sets.push(shape(box(b), '#fff', 0)));
    const wall = line(WALL, '#fff', 5);
    wall.tension = 0;
    wall.pointRadius = 0;
    sets.push(wall);
    sets.push({ data: [{ x: MAST[0], y: MAST[1] }], pointRadius: 9.5, pointBackgroundColor: '#fff', pointBorderWidth: 0 });
    return sets.reverse();
}

const plotFrame = {
    id: 'plotFrame',
    beforeDatasetsDraw(chart) {
        const a = chart.chartArea, c = chart.ctx;
        c.save();
        c.fillStyle = PALETTE[0];
        c.fillRect(a.left, a.top, a.width, a.height);
        c.restore();
    },
    afterDatasetsDraw(chart) {
        const a = chart.chartArea, c = chart.ctx;
        c.save();
        c.strokeStyle = '#000';
        c.lineWidth = 2;
        c.beginPath();
        X_TICKS.forEach(v => {
            const p = chart.scales.x.getPixelForValue(v);
            c.moveTo(p, a.bottom);
            c.lineTo(p, a.bottom - 21);
        });
        Y_TICKS.forEach(v => {
            const p = chart.scales.y.getPixelForValue(v);
            c.moveTo(a.left, p);
            c.lineTo(a.left + 18, p);
        });
        c.stroke();
        c.lineWidth = 3;
        c.beginPath();
        c.moveTo(a.left, a.top);
        c.lineTo(a.left, a.bottom);
        c.lineTo(a.right, a.bottom);
        c.stroke();
        c.restore();
    }
};

function addCanvas(l, t, w, h) {
    const cv = document.createElement('canvas');
    cv.width = w;
    cv.height = h;
    cv.style.cssText = 'left:' + l + 'px;top:' + t + 'px;width:' + w + 'px;height:' + h + 'px';
    page.appendChild(cv);
    return cv;
}

function tickText(v) {
    return v < 0 ? '\u2212' + (-v) : String(v);
}

function drawPanel(box, datasets) {
    const leftGap = 130, bottomGap = 92, pad = 6;
    const cv = addCanvas(box.l - leftGap, box.t - pad, box.r - box.l + leftGap + pad, box.b - box.t + bottomGap + pad);
    const tickFont = { family: SERIF, size: 36 };
    const titleFont = { family: SERIF, size: 54, weight: 'bold', style: 'italic', lineHeight: 1 };
    new Chart(cv, {
        type: 'scatter',
        data: { datasets: datasets },
        plugins: [plotFrame],
        options: {
            responsive: false,
            animation: false,
            events: [],
            layout: { autoPadding: false, padding: { top: pad, right: pad, left: 0, bottom: 0 } },
            plugins: { legend: { display: false }, tooltip: { enabled: false } },
            scales: {
                x: {
                    type: 'linear', min: -300, max: 360,
                    grid: { display: false, drawTicks: false },
                    border: { display: false },
                    afterBuildTicks: s => { s.ticks = X_TICKS.map(v => ({ value: v })); },
                    afterFit: s => { s.height = bottomGap; s.paddingLeft = 0; s.paddingRight = 0; },
                    ticks: { font: tickFont, color: '#222', padding: 4, maxRotation: 0, autoSkip: false, callback: tickText },
                    title: { display: true, text: 'x(m)', font: titleFont, color: '#000', padding: 0 }
                },
                y: {
                    type: 'linear', min: -150, max: 450,
                    grid: { display: false, drawTicks: false },
                    border: { display: false },
                    afterBuildTicks: s => { s.ticks = Y_TICKS.map(v => ({ value: v })); },
                    afterFit: s => { s.width = leftGap; s.paddingTop = 0; s.paddingBottom = 0; },
                    ticks: { font: tickFont, color: '#222', padding: 12, autoSkip: false, callback: tickText },
                    title: { display: true, text: 'y(m)', font: titleFont, color: '#000', padding: { top: 24, bottom: 0 } }
                }
            }
        }
    });
}

function drawColorBar(box) {
    const side = 30, under = 48;
    const cv = addCanvas(box.l - side, box.t - 2, box.r - box.l + 2 * side, box.b - box.t + under + 2);
    const datasets = PALETTE.map((color, i) => ({
        data: [[TEMP_EDGES[i], TEMP_EDGES[i + 1]]],
        backgroundColor: color, borderColor: 'rgba(0,60,40,0.7)', borderWidth: 1,
        barPercentage: 1, categoryPercentage: 1, grouped: false
    }));
    new Chart(cv, {
        type: 'bar',
        data: { labels: ['T'], datasets: datasets },
        options: {
            indexAxis: 'y',
            responsive: false,
            animation: false,
            events: [],
            layout: { autoPadding: false, padding: { top: 2, left: side, right: side, bottom: 0 } },
            plugins: { legend: { display: false }, tooltip: { enabled: false } },
            scales: {
                y: { display: false },
                x: {
                    type: 'linear', min: TEMP_EDGES[0], max: TEMP_EDGES[TEMP_EDGES.length - 1],
                    grid: { display: false, drawTicks: false },
                    border: { display: false },
                    afterBuildTicks: s => { s.ticks = TEMP_TICKS.map(v => ({ value: v })); },
                    afterFit: s => { s.height = under; s.paddingLeft = 0; s.paddingRight = 0; },
                    ticks: { font: { family: SERIF, size: 29 }, color: '#222', padding: 14, maxRotation: 0, autoSkip: false }
                }
            }
        }
    });
}

function addText(cls, html, x, y) {
    const d = document.createElement('div');
    d.className = 'txt ' + cls;
    d.innerHTML = html;
    d.style.left = x + 'px';
    d.style.top = y + 'px';
    page.appendChild(d);
}

function addFrameBits() {
    RULES.forEach(r => {
        [r[2], r[3]].forEach(y => {
            const d = document.createElement('div');
            d.className = 'rule';
            d.style.cssText = 'left:' + r[0] + 'px;top:' + y + 'px;width:' + (r[1] - r[0]) + 'px';
            page.appendChild(d);
        });
        const e = document.createElement('div');
        e.className = 'edge';
        e.style.cssText = 'left:' + r[0] + 'px;top:' + r[3] + 'px;height:' + (r[4] - r[3]) + 'px';
        page.appendChild(e);
    });
    HEADS.forEach(h => addText('head', h[0], h[1], h[2]));
    CAPTIONS.forEach(c => addText('head', '(<b>' + c[0] + '</b>)' + c[1], c[2], c[3]));
    [[160, 153], [1268, 153], [160, 1253], [1268, 1253], [160, 2358], [1268, 2358]].forEach(p => addText('tlabel', 'Temperature(K):', p[0], p[1]));
}

addFrameBits();
BAR_LAYOUT.forEach(drawColorBar);
drawPanel(PANEL_LAYOUT[0], panelDatasets(hotA, arrayHotA, dotLevelsA, linesA, thickA, spotsA, coresA, holesA, seedsA));
drawPanel(PANEL_LAYOUT[1], panelDatasets(hotB, arrayHotB, dotLevelsB, linesB, thickB, spotsB, coresB, [], seedsB));
drawPanel(PANEL_LAYOUT[2], panelDatasets(hotC, arrayHotC, dotLevelsC, linesC, thickC, spotsC, coresC, [], seedsC));
drawPanel(PANEL_LAYOUT[3], panelDatasets(hotD, arrayHotD, dotLevelsD, linesD, thickD, spotsD, coresD, [], seedsD));
drawPanel(PANEL_LAYOUT[4], panelDatasets(hotE, arrayHotE, dotLevelsE, linesE, thickE, spotsE, coresE, [], seedsE));
drawPanel(PANEL_LAYOUT[5], panelDatasets(hotF, arrayHotF, dotLevelsF, linesF, thickF, spotsF, coresF, [], seedsF));
</script>
</body>
</html>
